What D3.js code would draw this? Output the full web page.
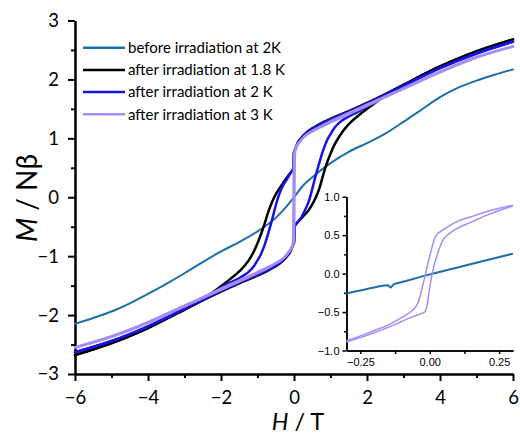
<!DOCTYPE html>
<html><head><meta charset="utf-8">
<script src="https://cdn.jsdelivr.net/npm/d3@7"></script>
<style>
html,body{margin:0;padding:0;background:#fff;}
svg{display:block;}
</style></head>
<body>
<svg id="chart" width="520" height="436"></svg>
<script>
// ---------- DATA ----------
const seriesNames = ["before irradiation at 2K","after irradiation at 1.8 K","after irradiation at 2 K","after irradiation at 3 K"];
const xTicksMain = [-6,-4,-2,0,2,4,6];
const yTicksMain = [-3,-2,-1,0,1,2,3];
const xTicksInset = [-0.25,0,0.25];
const yTicksInset = [-1,-0.5,0,0.5,1];

// before irradiation (single curve)
const tealH = [-6,-5.5,-5,-4.5,-4,-3.5,-3,-2.5,-2,-1.5,-1,-0.5,-0.25,0,0.25,0.5,1,1.5,2,2.5,3,3.5,4,4.5,5,5.5,6];
const tealM = [-2.15,-2.05,-1.94,-1.80,-1.64,-1.47,-1.29,-1.10,-0.92,-0.76,-0.58,-0.35,-0.19,0,0.2,0.34,0.58,0.77,0.92,1.08,1.28,1.49,1.70,1.86,1.98,2.08,2.17];

// 1.8 K loop
const blackUpH = [-6,-5,-4,-3,-2.5,-2,-1.75,-1.5,-1.25,-1.1,-1.0,-0.9,-0.8,-0.7,-0.6,-0.5,-0.4,-0.3,-0.2,-0.1,-0.02,0,0.03,0.1,0.2,0.4,0.7,1,1.5,2,2.5,3,4,5,6];
const blackUpM = [-2.68,-2.47,-2.22,-1.90,-1.73,-1.51,-1.39,-1.26,-1.08,-0.92,-0.78,-0.62,-0.44,-0.24,-0.08,0.05,0.15,0.24,0.33,0.41,0.47,0.76,0.81,0.92,1.01,1.13,1.24,1.33,1.46,1.60,1.75,1.91,2.22,2.48,2.68];
const blackLoH = [-6,-5,-4,-3,-2.5,-2,-1.5,-1,-0.7,-0.4,-0.2,-0.1,-0.03,0,0.02,0.1,0.2,0.3,0.4,0.5,0.6,0.7,0.8,0.9,1.0,1.1,1.25,1.5,1.75,2,2.5,3,4,5,6];
const blackLoM = [-2.68,-2.48,-2.22,-1.91,-1.75,-1.60,-1.46,-1.33,-1.24,-1.13,-1.01,-0.92,-0.81,-0.77,-0.49,-0.42,-0.36,-0.29,-0.22,-0.12,0.0,0.16,0.38,0.58,0.74,0.88,1.04,1.24,1.38,1.50,1.72,1.90,2.22,2.47,2.68];

// 2 K loop
const blueUpH = [-6,-5,-4,-3,-2.5,-2,-1.75,-1.5,-1.25,-1.1,-1.0,-0.9,-0.8,-0.7,-0.6,-0.5,-0.4,-0.3,-0.2,-0.1,-0.02,0,0.03,0.1,0.2,0.4,0.7,1,1.5,2,2.5,3,4,5,6];
const blueUpM = [-2.63,-2.44,-2.19,-1.89,-1.72,-1.54,-1.45,-1.37,-1.27,-1.17,-1.07,-0.96,-0.80,-0.60,-0.38,-0.14,0.06,0.20,0.30,0.41,0.49,0.76,0.81,0.92,1.0,1.12,1.23,1.32,1.45,1.59,1.74,1.89,2.19,2.44,2.64];
const blueLoH = [-6,-5,-4,-3,-2.5,-2,-1.5,-1,-0.7,-0.4,-0.2,-0.1,-0.03,0,0.02,0.1,0.2,0.3,0.4,0.5,0.6,0.7,0.8,0.9,1.0,1.1,1.25,1.5,1.75,2,2.5,3,4,5,6];
const blueLoM = [-2.63,-2.44,-2.19,-1.89,-1.74,-1.59,-1.45,-1.32,-1.23,-1.12,-1.0,-0.92,-0.81,-0.77,-0.50,-0.43,-0.34,-0.22,-0.08,0.14,0.38,0.60,0.80,0.96,1.07,1.17,1.27,1.37,1.45,1.54,1.72,1.89,2.19,2.44,2.64];

// 3 K loop
const purpleUpH = [-6,-5,-4,-3,-2.5,-2,-1.5,-1,-0.6,-0.3,-0.15,-0.06,-0.03,-0.015,-0.005,0.01,0.05,0.15,0.3,0.6,1,1.5,2,2.5,3,4,5,6];
const purpleUpM = [-2.55,-2.36,-2.12,-1.84,-1.70,-1.55,-1.41,-1.27,-1.15,-1.04,-0.94,-0.85,-0.79,-0.30,0.55,0.76,0.83,0.93,1.04,1.16,1.29,1.43,1.57,1.71,1.85,2.13,2.38,2.56];
const purpleLoH = [-6,-5,-4,-3,-2.5,-2,-1.5,-1,-0.6,-0.3,-0.15,-0.05,-0.01,0.005,0.015,0.03,0.06,0.15,0.3,0.6,1,1.5,2,2.5,3,4,5,6];
const purpleLoM = [-2.55,-2.37,-2.13,-1.85,-1.71,-1.57,-1.43,-1.29,-1.16,-1.04,-0.93,-0.83,-0.76,-0.55,0.30,0.78,0.85,0.94,1.04,1.15,1.27,1.41,1.55,1.70,1.84,2.12,2.37,2.56];

// inset
const insTealH = [-0.30,-0.2,-0.15,-0.145,-0.14,-0.135,-0.13,-0.1,0,0.1,0.2,0.3];
const insTealM = [-0.26,-0.18,-0.15,-0.17,-0.18,-0.16,-0.14,-0.11,-0.01,0.08,0.17,0.26];
const insUpH = [-0.30,-0.25,-0.20,-0.15,-0.10,-0.07,-0.05,-0.04,-0.025,-0.01,0.005,0.018,0.024,0.04,0.07,0.1,0.15,0.2,0.25,0.30];
const insUpM = [-0.87,-0.81,-0.74,-0.67,-0.57,-0.50,-0.43,-0.36,-0.15,0.08,0.30,0.46,0.50,0.55,0.62,0.68,0.74,0.80,0.85,0.89];
const insLoH = [-0.30,-0.25,-0.20,-0.15,-0.10,-0.06,-0.03,-0.018,-0.01,0.0,0.01,0.025,0.035,0.045,0.07,0.1,0.15,0.2,0.25,0.30];
const insLoM = [-0.89,-0.83,-0.77,-0.70,-0.62,-0.56,-0.52,-0.50,-0.42,-0.18,0.02,0.22,0.33,0.42,0.52,0.59,0.67,0.75,0.82,0.88];

// ---------- STYLE ----------
const cTeal = "#1c6fa8", cBlack = "#000000", cBlue = "#1414e6", cPurple = "#a68cf5";
const mainFont = "Lato, 'Open Sans', sans-serif";
const insetFont = "'Liberation Sans', Arial, sans-serif";

const svg = d3.select("#chart");
const zip = (h, m) => h.map((v, i) => [v, m[i]]);

// ---------- MAIN ----------
const x = d3.scaleLinear().domain([-6, 6]).range([75, 513]);
const y = d3.scaleLinear().domain([-3, 3]).range([374, 20.5]);

const line = d3.line().x(d => x(d[0])).y(d => y(d[1])).curve(d3.curveMonotoneX);

const gx = svg.append("g").attr("transform", "translate(0,374)");
gx.append("g").call(d3.axisBottom(x).tickValues([-5,-3,-1,1,3,5]).tickSize(4).tickSizeOuter(0).tickFormat(""));
gx.append("g").call(d3.axisBottom(x).tickValues(xTicksMain).tickSize(7).tickSizeOuter(0).tickPadding(10)
  .tickFormat(d => d < 0 ? "\u2212" + Math.abs(d) : d));
gx.selectAll("path,line").attr("stroke", "#000").attr("stroke-width", 2);
gx.selectAll("text").attr("font-family", mainFont).attr("font-size", 18.5).attr("fill", "#000");

const gy = svg.append("g").attr("transform", "translate(75,0)");
gy.append("g").call(d3.axisLeft(y).tickValues([-2.5,-1.5,-0.5,0.5,1.5,2.5]).tickSize(4).tickSizeOuter(0).tickFormat(""));
gy.append("g").call(d3.axisLeft(y).tickValues(yTicksMain).tickSize(7).tickSizeOuter(0).tickPadding(9)
  .tickFormat(d => d < 0 ? "\u2212" + Math.abs(d) : d));
gy.selectAll("path,line").attr("stroke", "#000").attr("stroke-width", 2);
gy.selectAll("text").attr("font-family", mainFont).attr("font-size", 18.5).attr("fill", "#000");

// axis titles
const xt = svg.append("text").attr("x", 298).attr("y", 430).attr("text-anchor", "middle")
  .attr("font-family", mainFont).attr("font-size", 23.5).attr("fill", "#000");
xt.append("tspan").attr("font-style", "italic").text("H");
xt.append("tspan").text(" / T");

const yt = svg.append("text").attr("transform", "translate(37,198) rotate(-90)").attr("text-anchor", "middle")
  .attr("font-family", mainFont).attr("font-size", 28).attr("fill", "#000");
yt.append("tspan").attr("font-style", "italic").text("M");
yt.append("tspan").text(" / N\u03b2");

// curves
const plot = svg.append("g").attr("fill", "none").attr("stroke-linejoin", "round").attr("stroke-linecap", "round");
plot.append("path").attr("d", line(zip(tealH, tealM))).attr("stroke", cTeal).attr("stroke-width", 2);
[[blackUpH, blackUpM, blackLoH, blackLoM, cBlack],
 [blueUpH, blueUpM, blueLoH, blueLoM, cBlue],
 [purpleUpH, purpleUpM, purpleLoH, purpleLoM, cPurple]].forEach(([uh, um, lh, lm, c]) => {
  plot.append("path").attr("d", line(zip(uh, um))).attr("stroke", c).attr("stroke-width", 2.5);
  plot.append("path").attr("d", line(zip(lh, lm))).attr("stroke", c).attr("stroke-width", 2.5);
});

// legend
const legColors = [cTeal, cBlack, cBlue, cPurple];
const leg = svg.append("g");
seriesNames.forEach((name, i) => {
  const yy = 47.7 + i * 22.2;
  leg.append("line").attr("x1", 83).attr("x2", 125).attr("y1", yy).attr("y2", yy)
    .attr("stroke", legColors[i]).attr("stroke-width", 2.5);
  leg.append("text").attr("x", 128).attr("y", yy).attr("dy", "0.35em")
    .attr("font-family", mainFont).attr("font-size", 15).attr("fill", "#000").text(name);
});

// ---------- INSET ----------
const xi = d3.scaleLinear().domain([-0.3, 0.3]).range([346.5, 513]);
const yi = d3.scaleLinear().domain([-1, 1]).range([350.5, 196.7]);
const lineI = d3.line().x(d => xi(d[0])).y(d => yi(d[1])).curve(d3.curveMonotoneX);

const gxi = svg.append("g").attr("transform", "translate(0,350.5)");
gxi.append("g").call(d3.axisBottom(xi).tickValues([-0.125, 0.125]).tickSize(3.5).tickSizeOuter(0).tickFormat(""));
gxi.append("g").call(d3.axisBottom(xi).tickValues(xTicksInset).tickSize(3.5).tickSizeOuter(0).tickPadding(4)
  .tickFormat(d => (d < 0 ? "\u2212" : "") + Math.abs(d).toFixed(2)));
gxi.selectAll("path,line").attr("stroke", "#000").attr("stroke-width", 1.5);
gxi.selectAll("text").attr("font-family", insetFont).attr("font-size", 11).attr("fill", "#000");

const gyi = svg.append("g").attr("transform", "translate(346.5,0)");
gyi.append("g").call(d3.axisLeft(yi).tickValues([-0.75,-0.25,0.25,0.75]).tickSize(2.5).tickSizeOuter(0).tickFormat(""));
gyi.append("g").call(d3.axisLeft(yi).tickValues(yTicksInset).tickSize(4).tickSizeOuter(0).tickPadding(3)
  .tickFormat(d => (d < 0 ? "\u2212" : "") + Math.abs(d).toFixed(1)));
gyi.selectAll("path,line").attr("stroke", "#000").attr("stroke-width", 1.5);
gyi.selectAll("text").attr("font-family", insetFont).attr("font-size", 11).attr("fill", "#000");

const ins = svg.append("g").attr("fill", "none").attr("stroke-linejoin", "round");
ins.append("path").attr("d", lineI(zip(insTealH, insTealM))).attr("stroke", cTeal).attr("stroke-width", 2);
ins.append("path").attr("d", lineI(zip(insUpH, insUpM))).attr("stroke", cPurple).attr("stroke-width", 1.5);
ins.append("path").attr("d", lineI(zip(insLoH, insLoM))).attr("stroke", cPurple).attr("stroke-width", 1.5);
</script>
</body></html>
